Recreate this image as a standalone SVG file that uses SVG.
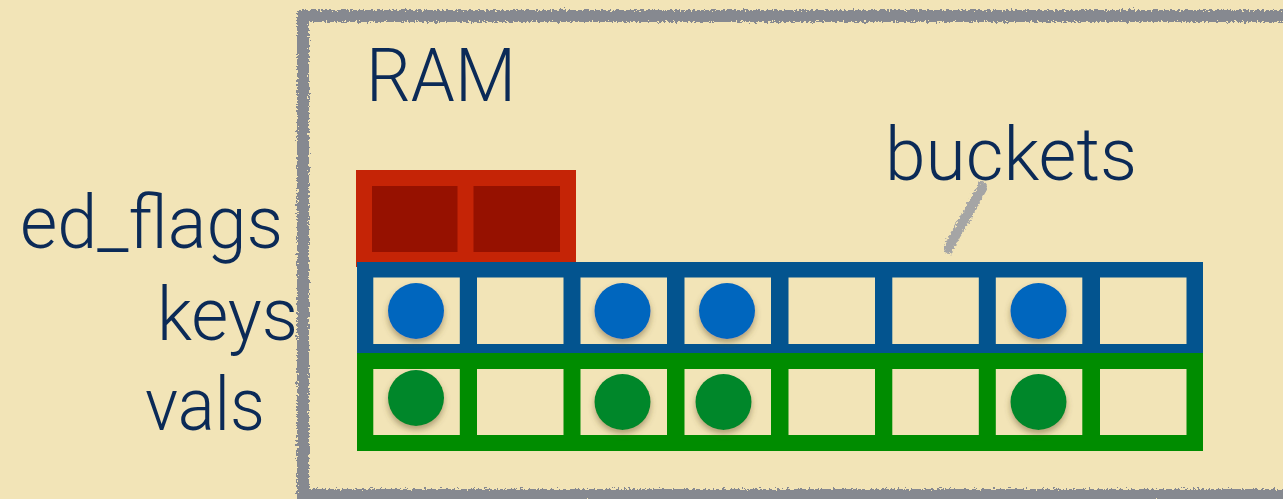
<svg xmlns="http://www.w3.org/2000/svg" width="1283" height="499" viewBox="0 0 1283 499">
  <style>
    .lbl { font-family: Roboto, "Liberation Sans", sans-serif; font-weight: 300; font-size: 74px; fill: #0B2A57; }
    .bg { fill: #F2E4B7; }
    .kc { fill: #0466BE; filter: url(#shadow); }
    .vc { fill: #02872B; filter: url(#shadow); }
  </style>
  <defs>
    <filter id="rough" x="-5%" y="-5%" width="110%" height="110%">
      <feTurbulence type="fractalNoise" baseFrequency="0.45" numOctaves="2" seed="3" result="n"/>
      <feDisplacementMap in="SourceGraphic" in2="n" scale="7" xChannelSelector="R" yChannelSelector="G"/>
    </filter>
    <filter id="shadow" x="-30%" y="-30%" width="160%" height="170%">
      <feDropShadow dx="0" dy="4" stdDeviation="3" flood-color="#5a4a20" flood-opacity="0.45"/>
    </filter>
  </defs>
  <rect class="bg" x="0" y="0" width="1283" height="499"/>

  <g id="ram">
    <rect x="303" y="16" width="1020" height="479" fill="none" stroke="#868990" stroke-width="12" filter="url(#rough)"/>
    <text class="lbl" x="366" y="101" textLength="150" lengthAdjust="spacingAndGlyphs">RAM</text>
  </g>

  <g id="ed_flags">
    <text class="lbl" x="20" y="248" textLength="263" lengthAdjust="spacingAndGlyphs">ed_flags</text>
    <rect x="356" y="170" width="220" height="97" fill="#C52406"/>
    <rect x="372" y="186" width="85.5" height="66" fill="#961100"/>
    <rect x="473.5" y="186" width="86.5" height="66" fill="#961100"/>
  </g>

  <g id="keys">
    <text class="lbl" x="157" y="340" textLength="141" lengthAdjust="spacingAndGlyphs">keys</text>
    <rect x="357" y="262" width="846" height="98" fill="#03548F"/>
    <rect class="bg" x="373.3" y="277.5" width="86.5" height="66.5"/>
    <rect class="bg" x="477" y="277.5" width="86.5" height="66.5"/>
    <rect class="bg" x="580.5" y="277.5" width="86.5" height="66.5"/>
    <rect class="bg" x="684.5" y="277.5" width="86.5" height="66.5"/>
    <rect class="bg" x="788.5" y="277.5" width="86.5" height="66.5"/>
    <rect class="bg" x="892.3" y="277.5" width="86.5" height="66.5"/>
    <rect class="bg" x="995.8" y="277.5" width="86.5" height="66.5"/>
    <rect class="bg" x="1100" y="277.5" width="86.5" height="66.5"/>
    <circle class="kc" cx="416" cy="311" r="28"/>
    <circle class="kc" cx="622.5" cy="311" r="28"/>
    <circle class="kc" cx="727" cy="311" r="28"/>
    <circle class="kc" cx="1038.5" cy="311" r="28"/>
  </g>

  <g id="vals">
    <text class="lbl" x="145" y="430" textLength="120" lengthAdjust="spacingAndGlyphs">vals</text>
    <rect x="357" y="353" width="846" height="98" fill="#008C00"/>
    <rect class="bg" x="373.3" y="369" width="86.5" height="66"/>
    <rect class="bg" x="477" y="369" width="86.5" height="66"/>
    <rect class="bg" x="580.5" y="369" width="86.5" height="66"/>
    <rect class="bg" x="684.5" y="369" width="86.5" height="66"/>
    <rect class="bg" x="788.5" y="369" width="86.5" height="66"/>
    <rect class="bg" x="892.3" y="369" width="86.5" height="66"/>
    <rect class="bg" x="995.8" y="369" width="86.5" height="66"/>
    <rect class="bg" x="1100" y="369" width="86.5" height="66"/>
    <circle class="vc" cx="416" cy="398" r="28"/>
    <circle class="vc" cx="622.5" cy="402" r="28"/>
    <circle class="vc" cx="723.5" cy="402" r="28"/>
    <circle class="vc" cx="1038.5" cy="402" r="28"/>
  </g>

  <g id="buckets">
    <text class="lbl" x="885" y="180" textLength="252" lengthAdjust="spacingAndGlyphs">buckets</text>
  </g>

  <g id="connectors">
    <line x1="985" y1="183" x2="946" y2="252" stroke="#A5A5A5" stroke-width="10" filter="url(#rough)"/>
  </g>
</svg>
